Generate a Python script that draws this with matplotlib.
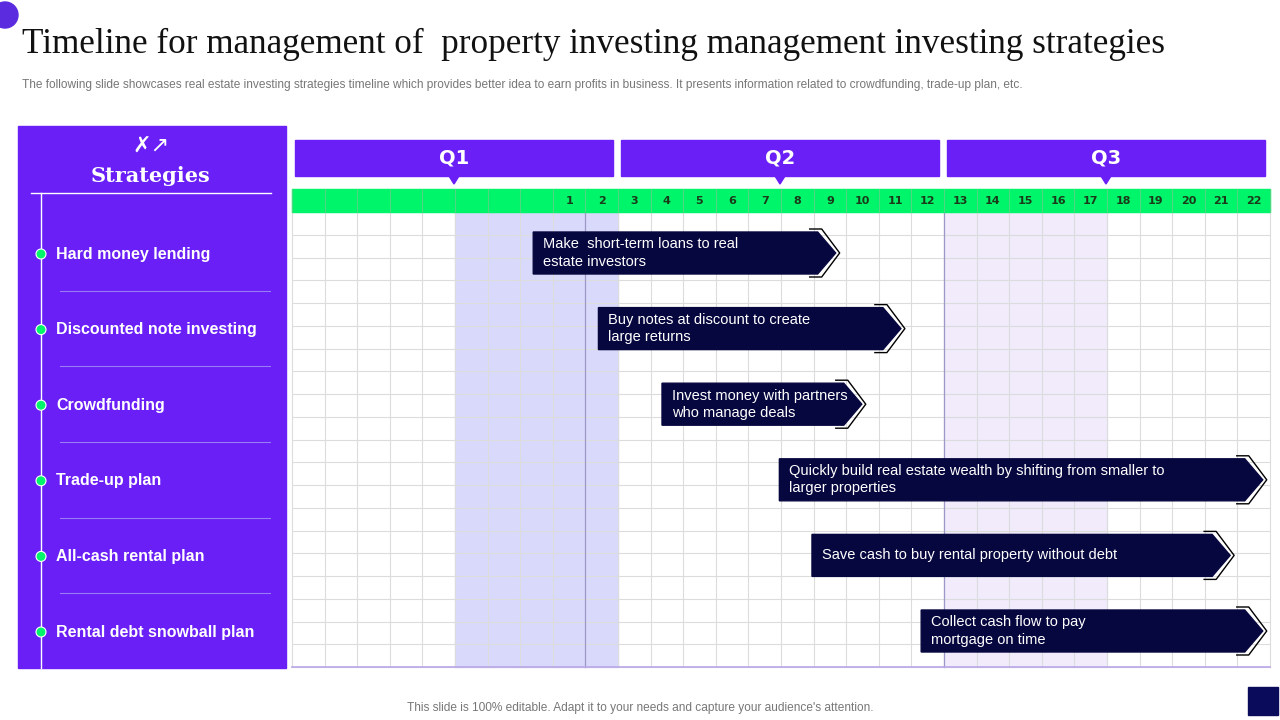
import matplotlib.pyplot as plt
from matplotlib.patches import Rectangle, Polygon, Circle

# data
quarters = ["Q1", "Q2", "Q3"]
week_labels = [""] * 8 + [str(i) for i in range(1, 23)]
strategies = ["Hard money lending", "Discounted note investing", "Crowdfunding",
              "Trade-up plan", "All-cash rental plan", "Rental debt snowball plan"]
descriptions = ["Make  short-term loans to real\nestate investors",
                "Buy notes at discount to create\nlarge returns",
                "Invest money with partners\nwho manage deals",
                "Quickly build real estate wealth by shifting from smaller to\nlarger properties",
                "Save cash to buy rental property without debt",
                "Collect cash flow to pay\nmortgage on time"]
bar_start = [7.4, 9.4, 11.35, 14.95, 15.95, 19.3]   # in grid columns
bar_end = [16.8, 18.8, 17.6, 29.9, 28.9, 29.9]

PURPLE = "#6a1ff7"
GREEN = "#00f56a"
NAVY = "#07073f"

fig = plt.figure(figsize=(12.8, 7.2), dpi=100)
ax = fig.add_axes([0, 0, 1, 1])
ax.set_xlim(0, 1280)
ax.set_ylim(720, 0)
ax.axis("off")

ax.add_patch(Circle((5, 15), 13, color="#5b2be0"))
ax.text(22, 44, "Timeline for management of  property investing management investing strategies",
        fontsize=25.3, family="Liberation Serif", va="center", color="#111")
ax.text(22, 85, "The following slide showcases real estate investing strategies timeline which provides better idea to earn profits in business. It presents information related to crowdfunding, trade-up plan, etc.",
        fontsize=8.6, color="#777", va="center", family="Liberation Sans")
ax.text(640, 708, "This slide is 100% editable. Adapt it to your needs and capture your audience's attention.",
        fontsize=8.6, color="#777", ha="center", va="center", family="Liberation Sans")
ax.add_patch(Rectangle((1248, 687), 30, 28, color="#0b0b5c"))

# left panel
ax.add_patch(Rectangle((18, 126), 268, 542, color=PURPLE))
ax.text(151, 146, "✗↗", fontsize=16, color="white", ha="center", va="center", family="DejaVu Sans")
ax.text(151, 176, "Strategies", fontsize=15, color="white", ha="center", va="center",
        family="DejaVu Serif", weight="bold")
ax.plot([31, 271], [193, 193], color="white", lw=1)
ax.plot([41, 41], [193, 668], color="white", lw=1)
row_y = [253 + 75.6 * i for i in range(len(strategies))]
for i, (s, y) in enumerate(zip(strategies, row_y)):
    ax.add_patch(Circle((41, y + 1), 5, facecolor=GREEN, edgecolor="white", lw=0.8, zorder=3))
    ax.text(56, y + 1, s, fontsize=11.5, color="white", weight="bold", va="center", family="Liberation Sans")
    if i < len(strategies) - 1:
        ax.plot([60, 270], [y + 37.8] * 2, color="#9a7af5", lw=0.8)

# grid
x0, cw = 292, 978 / 30
top, bot, nrows = 212, 667, 20
rh = (bot - top) / nrows
ax.add_patch(Rectangle((x0 + 5 * cw, top), 5 * cw, bot - top, color="#d9d9fb", zorder=0))
ax.add_patch(Rectangle((x0 + 20 * cw, top), 5 * cw, bot - top, color="#f1ebfc", zorder=0))
for c in range(31):
    ax.plot([x0 + c * cw] * 2, [189, bot], color="#dcdcdc", lw=0.8, zorder=1)
for r in range(nrows + 1):
    ax.plot([x0, x0 + 30 * cw], [top + r * rh] * 2, color="#dcdcdc", lw=0.8, zorder=1)
for c in (9, 20):
    ax.plot([x0 + c * cw] * 2, [top, bot], color="#9c98c8", lw=0.9, zorder=1)
ax.plot([x0, x0 + 30 * cw], [bot, bot], color="#b9a6e8", lw=1.2)
ax.add_patch(Rectangle((x0, 189), 30 * cw, 23, color=GREEN, zorder=1))
for c in range(31):
    ax.plot([x0 + c * cw] * 2, [189, 212], color="#4fd884", lw=0.8, zorder=2)
for c, lab in enumerate(week_labels):
    ax.text(x0 + (c + 0.5) * cw, 200.5, lab, fontsize=8, weight="bold", ha="center",
            va="center", color="#1a3a1a", zorder=3)

# quarter headers
qw = 978 / 3
for i, q in enumerate(quarters):
    qx = 295 + i * qw
    ax.add_patch(Rectangle((qx, 140), qw - 8, 36, color=PURPLE))
    cx = qx + (qw - 8) / 2
    ax.add_patch(Polygon([(cx - 5, 176), (cx + 5, 176), (cx, 184)], color=PURPLE))
    ax.text(cx, 158, q, fontsize=14, weight="bold", color="white", ha="center", va="center")

# bars
for s, e, d, y in zip(bar_start, bar_end, descriptions, row_y):
    xs, xe = x0 + s * cw, x0 + e * cw
    h = 21
    ax.add_patch(Polygon([(xs, y - h), (xe - 22, y - h), (xe - 4, y), (xe - 22, y + h), (xs, y + h)],
                         color=NAVY, zorder=4))
    ax.plot([xe - 30, xe - 18, xe, xe - 18, xe - 30],
            [y - h - 3, y - h - 3, y, y + h + 3, y + h + 3], color="black", lw=1, zorder=3)
    ax.text(xs + 10, y, d, fontsize=10.5, color="white", va="center", zorder=5,
            family="Liberation Sans", linespacing=1.3)

fig.savefig("out.png", dpi=100)
